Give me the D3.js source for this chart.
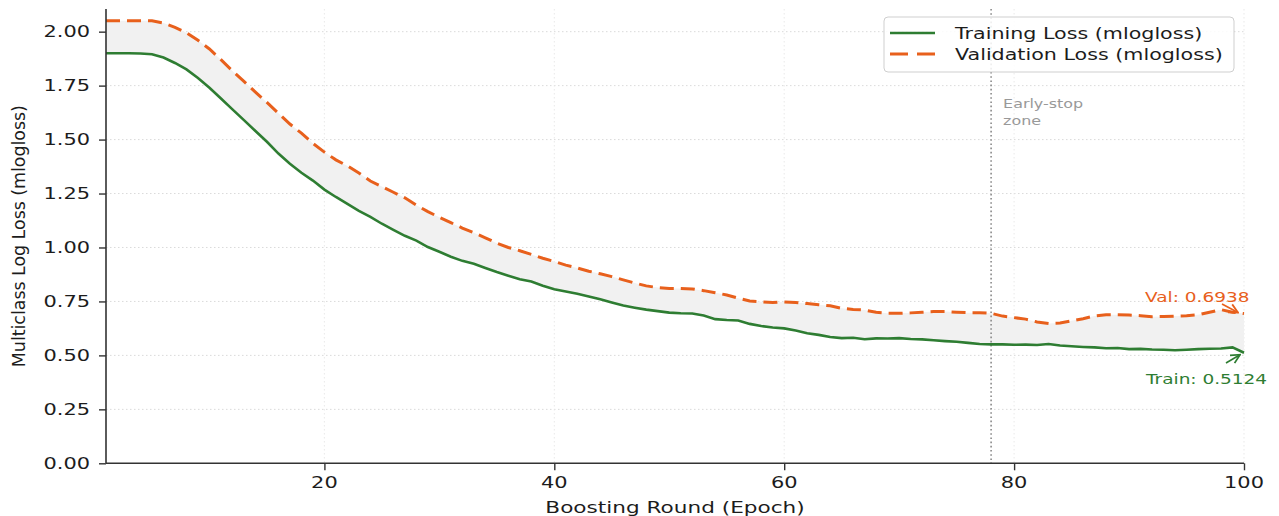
<!DOCTYPE html>
<html>
<head>
<meta charset="utf-8">
<script src="https://cdn.jsdelivr.net/npm/d3@7"></script>
<style>
  body { margin: 0; background: #fff; }
  text { font-family: "DejaVu Sans", sans-serif; }
</style>
</head>
<body>
<div id="chart"></div>
<script>
// data
let epochs = d3.range(1, 101);

let trainLoss = [
  1.900, 1.900, 1.900, 1.899, 1.895, 1.880, 1.855, 1.825, 1.785, 1.740,
  1.690, 1.640, 1.590, 1.540, 1.490, 1.435, 1.388, 1.346, 1.310, 1.268,
  1.234, 1.202, 1.170, 1.142, 1.110, 1.082, 1.054, 1.032, 1.002, 0.980,
  0.957, 0.938, 0.925, 0.905, 0.886, 0.869, 0.853, 0.842, 0.823, 0.806,
  0.796, 0.786, 0.773, 0.760, 0.745, 0.731, 0.721, 0.712, 0.705, 0.698,
  0.695, 0.694, 0.685, 0.668, 0.664, 0.662, 0.646, 0.636, 0.629, 0.625,
  0.615, 0.603, 0.595, 0.585, 0.580, 0.582, 0.575, 0.579, 0.578, 0.580,
  0.576, 0.574, 0.570, 0.566, 0.563, 0.558, 0.553, 0.551, 0.551, 0.549,
  0.550, 0.548, 0.553, 0.546, 0.542, 0.539, 0.537, 0.533, 0.534, 0.529,
  0.530, 0.527, 0.526, 0.524, 0.526, 0.529, 0.531, 0.532, 0.537, 0.5124
];

let valLoss = [
  2.051, 2.051, 2.051, 2.051, 2.050, 2.040, 2.020, 1.995, 1.960, 1.920,
  1.870, 1.818, 1.770, 1.720, 1.672, 1.622, 1.572, 1.530, 1.482, 1.442,
  1.406, 1.378, 1.345, 1.308, 1.282, 1.256, 1.230, 1.196, 1.166, 1.140,
  1.115, 1.090, 1.068, 1.045, 1.020, 1.000, 0.985, 0.968, 0.950, 0.935,
  0.918, 0.905, 0.890, 0.878, 0.865, 0.850, 0.835, 0.822, 0.814, 0.810,
  0.810, 0.808, 0.800, 0.790, 0.780, 0.765, 0.752, 0.748, 0.745, 0.748,
  0.745, 0.740, 0.735, 0.730, 0.718, 0.713, 0.710, 0.700, 0.695, 0.695,
  0.697, 0.700, 0.703, 0.703, 0.700, 0.698, 0.698, 0.695, 0.682, 0.675,
  0.668, 0.655, 0.648, 0.650, 0.660, 0.670, 0.683, 0.688, 0.688, 0.687,
  0.684, 0.679, 0.680, 0.682, 0.684, 0.688, 0.700, 0.712, 0.700, 0.6938
];

let xTicks = [20, 40, 60, 80, 100];
let yTicks = [0, 0.25, 0.5, 0.75, 1.0, 1.25, 1.5, 1.75, 2.0];
let seriesNames = ['Training Loss (mlogloss)', 'Validation Loss (mlogloss)'];
let earlyStopEpoch = 78;

let width = 1279, height = 516;
let plotLeft = 106, plotRight = 1244, plotTop = 9, plotBottom = 463.3;
let sx = 1.35; // the picture is stretched sideways, text too

let trainColor = '#2e7d32';
let valColor = '#e8601c';
let inkColor = '#1c1c1c';

let svg = d3.select('#chart').append('svg')
  .attr('width', width).attr('height', height);

let x = d3.scaleLinear().domain([1, 100]).range([plotLeft, plotRight]);
let y = d3.scaleLinear().domain([0, 2.105]).range([plotBottom, plotTop]);

// text helper with horizontal stretch
function label(g, px, py, str, size, color, anchor) {
  return g.append('text')
    .attr('transform', `translate(${px},${py}) scale(${sx},1)`)
    .attr('text-anchor', anchor || 'start')
    .style('font-size', size + 'px')
    .attr('fill', color)
    .text(str);
}

// grid
svg.append('g').selectAll('line').data(yTicks.slice(1)).enter().append('line')
  .attr('x1', plotLeft).attr('x2', plotRight)
  .attr('y1', d => y(d)).attr('y2', d => y(d))
  .attr('stroke', '#d6d6d6').attr('stroke-width', 0.9).attr('stroke-dasharray', '1.5,2.5');

svg.append('g').selectAll('line').data(xTicks).enter().append('line')
  .attr('x1', d => x(d)).attr('x2', d => x(d))
  .attr('y1', plotTop).attr('y2', plotBottom)
  .attr('stroke', '#e6e6e6').attr('stroke-width', 0.9).attr('stroke-dasharray', '1.5,2.5');

// band between the two curves
let rows = epochs.map((e, i) => ({ e: e, t: trainLoss[i], v: valLoss[i] }));

svg.append('path').datum(rows)
  .attr('fill', '#f1f1f1')
  .attr('d', d3.area().x(d => x(d.e)).y0(d => y(d.t)).y1(d => y(d.v)));

// early stop marker
svg.append('line')
  .attr('x1', x(earlyStopEpoch)).attr('x2', x(earlyStopEpoch))
  .attr('y1', plotTop).attr('y2', plotBottom)
  .attr('stroke', '#8a8a8a').attr('stroke-width', 1.6).attr('stroke-dasharray', '1.6,2.6');

label(svg, x(earlyStopEpoch) + 12, 108, 'Early-stop', 11.8, '#999');
label(svg, x(earlyStopEpoch) + 12, 125, 'zone', 11.8, '#999');

// curves
svg.append('path').datum(rows)
  .attr('fill', 'none').attr('stroke', trainColor).attr('stroke-width', 2.6)
  .attr('d', d3.line().x(d => x(d.e)).y(d => y(d.t)));

svg.append('path').datum(rows)
  .attr('fill', 'none').attr('stroke', valColor).attr('stroke-width', 3)
  .attr('stroke-dasharray', '14,7')
  .attr('d', d3.line().x(d => x(d.e)).y(d => y(d.v)));

// axes
let xAxis = svg.append('g').attr('transform', `translate(0,${plotBottom})`)
  .call(d3.axisBottom(x).tickValues(xTicks).tickSize(7).tickPadding(5));
let yAxis = svg.append('g').attr('transform', `translate(${plotLeft},0)`)
  .call(d3.axisLeft(y).tickValues(yTicks).tickFormat(d3.format('.2f')).tickSize(7).tickPadding(6));

[xAxis, yAxis].forEach(a => {
  a.select('.domain').attr('stroke', '#333').attr('stroke-width', 1.6);
  a.selectAll('.tick line').attr('stroke', '#333').attr('stroke-width', 1.4);
  a.selectAll('.tick text').remove();
});
xAxis.select('.domain').attr('d', `M${plotLeft},0H${plotRight}`);
yAxis.select('.domain').attr('d', `M0,${plotTop}V${plotBottom}`);

xTicks.forEach(t => label(svg, x(t), 488, String(t), 15.5, inkColor, 'middle'));
yTicks.forEach(t => label(svg, 90, y(t) + 5.5, d3.format('.2f')(t), 15.5, inkColor, 'end'));

label(svg, (plotLeft + plotRight) / 2, 513, 'Boosting Round (Epoch)', 16, inkColor, 'middle');

svg.append('text')
  .attr('transform', `translate(25,${(plotTop + plotBottom) / 2}) scale(1.15,1) rotate(-90)`)
  .attr('text-anchor', 'middle')
  .attr('textLength', 262).attr('lengthAdjust', 'spacingAndGlyphs')
  .style('font-size', '15px')
  .attr('fill', inkColor)
  .text('Multiclass Log Loss (mlogloss)');

// end annotations with arrows
let defs = svg.append('defs');
[['trainHead', trainColor], ['valHead', valColor]].forEach(m => {
  defs.append('marker').attr('id', m[0])
    .attr('viewBox', '0 0 10 10').attr('refX', 9).attr('refY', 5)
    .attr('markerWidth', 7).attr('markerHeight', 7).attr('orient', 'auto')
    .append('path').attr('d', 'M1,1L9,5L1,9').attr('fill', 'none')
    .attr('stroke', m[1]).attr('stroke-width', 1.6);
});

let lastTrain = trainLoss[trainLoss.length - 1];
let lastVal = valLoss[valLoss.length - 1];

svg.append('line')
  .attr('x1', 1222).attr('y1', 304)
  .attr('x2', x(100) - 6).attr('y2', y(lastVal) - 1)
  .attr('stroke', valColor).attr('stroke-width', 1.6).attr('marker-end', 'url(#valHead)');
svg.append('line')
  .attr('x1', 1226).attr('y1', 363)
  .attr('x2', x(100) - 4).attr('y2', y(lastTrain) + 2)
  .attr('stroke', trainColor).attr('stroke-width', 1.6).attr('marker-end', 'url(#trainHead)');

label(svg, 1145, 302, 'Val: ' + lastVal.toFixed(4), 13.7, valColor);
label(svg, 1146, 384, 'Train: ' + lastTrain.toFixed(4), 13.7, trainColor);

// legend
let legend = svg.append('g');
legend.append('rect')
  .attr('x', 884).attr('y', 17).attr('width', 350).attr('height', 55).attr('rx', 4)
  .attr('fill', '#fff').attr('fill-opacity', 0.85).attr('stroke', '#cfcfcf');

legend.append('line').attr('x1', 890).attr('x2', 935).attr('y1', 33).attr('y2', 33)
  .attr('stroke', trainColor).attr('stroke-width', 2.6);
legend.append('line').attr('x1', 890).attr('x2', 935).attr('y1', 54).attr('y2', 54)
  .attr('stroke', valColor).attr('stroke-width', 3).attr('stroke-dasharray', '18,9');

label(legend, 955, 39, seriesNames[0], 15.3, inkColor);
label(legend, 955, 60, seriesNames[1], 15.3, inkColor);
</script>
</body>
</html>
